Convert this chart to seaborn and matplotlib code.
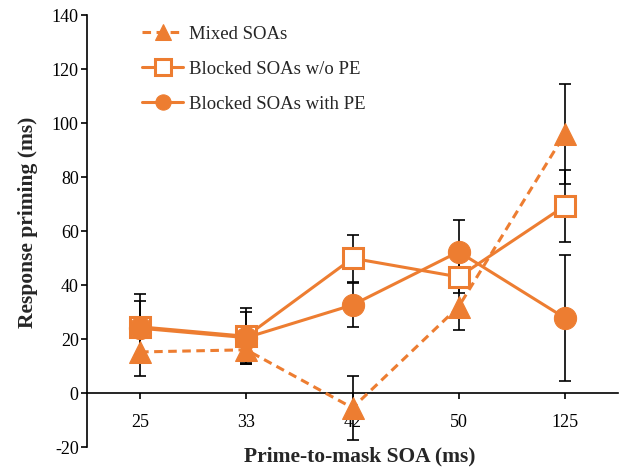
import matplotlib
matplotlib.use("Agg")
import matplotlib.pyplot as plt
import seaborn as sns
import numpy as np

categories = ["25", "33", "42", "50", "125"]
mixed = [15.2, 16.0, -5.5, 32.0, 96.0]
mixed_err = [9.0, 5.0, 11.9, 8.7, 18.5]
blocked_wo = [24.5, 21.0, 49.9, 43.0, 69.3]
blocked_wo_err = [12.2, 10.4, 8.7, 6.0, 13.4]
blocked_with = [24.0, 20.5, 32.6, 52.3, 27.8]
blocked_with_err = [10.0, 9.6, 8.0, 11.8, 23.2]
labels = ["Mixed SOAs", "Blocked SOAs w/o PE", "Blocked SOAs with PE"]
yticks = [-20, 0, 20, 40, 60, 80, 100, 120, 140]

sns.set_style("white")
plt.rcParams['font.family'] = ['Liberation Serif', 'DejaVu Serif']

orange = "#ED7D31"
fig = plt.figure(figsize=(6.21, 4.67), dpi=100)
ax = fig.add_axes([87/621, 20/467, 531/621, 432/467])

pos = np.arange(len(categories))

for vals, errs in [(mixed, mixed_err), (blocked_wo, blocked_wo_err), (blocked_with, blocked_with_err)]:
    ax.errorbar(pos, vals, yerr=errs, fmt='none', ecolor='black', elinewidth=1.2,
                capsize=4.5, capthick=1.2, zorder=2)

sns.lineplot(x=pos, y=mixed, ax=ax, color=orange, linestyle=(0, (2.8, 1.8)), linewidth=2.2,
             marker='^', markersize=16, markerfacecolor=orange, markeredgecolor=orange,
             label=labels[0], zorder=3)
sns.lineplot(x=pos, y=blocked_wo, ax=ax, color=orange, linestyle='-', linewidth=2.2,
             marker='s', markersize=15, markerfacecolor='white', markeredgecolor=orange,
             markeredgewidth=2.2, label=labels[1], zorder=4)
sns.lineplot(x=pos, y=blocked_with, ax=ax, color=orange, linestyle='-', linewidth=2.2,
             marker='o', markersize=16, markerfacecolor=orange, markeredgecolor=orange,
             label=labels[2], zorder=5)

ax.set_xlim(-0.5, len(categories) - 0.5)
ax.set_ylim(-20, 140)
ax.set_xticks(pos)
ax.set_xticklabels(categories)
ax.set_yticks(yticks)
ax.set_yticklabels([str(t) for t in yticks])

for s in ['top', 'right']:
    ax.spines[s].set_visible(False)
ax.spines['bottom'].set_position(('data', 0))
for s in ['left', 'bottom']:
    ax.spines[s].set_color('black')
    ax.spines[s].set_linewidth(1.2)

ax.tick_params(axis='y', direction='out', length=4, width=1.2, pad=2, labelsize=13, left=True, colors='black')
ax.tick_params(axis='x', direction='out', length=4, width=1.2, pad=11, labelsize=13, bottom=True, colors='black')

ax.set_ylabel("Response priming (ms)", fontsize=15.5, fontweight='bold')
ax.yaxis.label.set_va('center')
ax.yaxis.set_label_coords(-0.112, 0.521)
ax.set_xlabel("Prime-to-mask SOA (ms)", fontsize=15.5, fontweight='bold')
ax.xaxis.label.set_va('center')
ax.xaxis.set_label_coords(0.513, -0.021)

leg = ax.legend(loc='upper left', bbox_to_anchor=(0.104, 0.975), frameon=False,
                fontsize=13.5, handlelength=2.2, handletextpad=0.32, labelspacing=0.95,
                borderpad=0, borderaxespad=0)
for h in leg.legend_handles:
    h.set_markersize(11)

fig.savefig("out.png", dpi=100)
